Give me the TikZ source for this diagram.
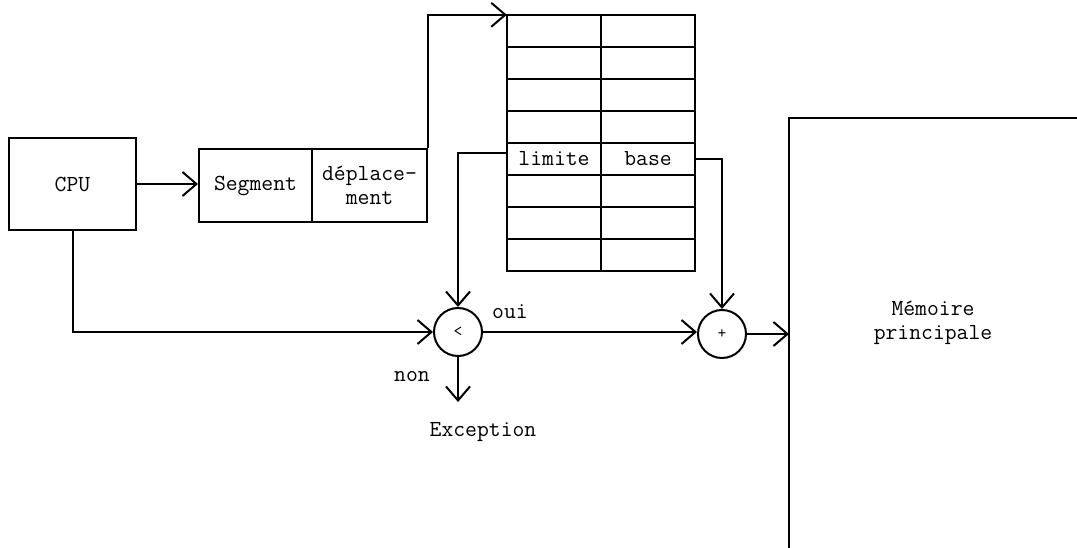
\documentclass[tikz,border=0pt]{standalone}
\usetikzlibrary{arrows.meta}
\begin{document}
\begin{tikzpicture}[x=1pt,y=-1pt,
  every node/.style={font=\ttfamily\fontsize{23}{24}\selectfont},
  box/.style={draw,line width=2pt,rectangle,inner sep=0pt},
  cell/.style={rectangle,inner sep=0pt,minimum width=94pt,minimum height=32pt},
  op/.style={draw,line width=2pt,circle,minimum size=48pt,inner sep=0pt,font=\ttfamily\fontsize{17}{18}\selectfont},
  arr/.style={line width=2pt,-{Straight Barb[length=14pt,width=24pt,line width=2pt]}},
  ln/.style={line width=2pt},
  lbl/.style={inner sep=0pt}]
\useasboundingbox (0,0) rectangle (1077,548);
% CPU
\node[box,minimum width=127pt,minimum height=92pt] (cpu) at (72.5,184) {CPU};
% segment / deplacement
\node[box,minimum width=113pt,minimum height=73pt] (seg) at (255.5,185.5) {Segment};
\node[box,minimum width=115pt,minimum height=73pt,align=center] (dep) at (369.5,185.5) {déplace-\\ment};
% table
\foreach \i in {1,2,3,4,6,7,8} {
  \node[cell] (l\i) at (554,{15+32*(\i-0.5)}) {};
  \node[cell] (r\i) at (648,{15+32*(\i-0.5)}) {};
}
\node[cell] (l5) at (554,{15+32*4.5}) {limite};
\node[cell] (r5) at (648,{15+32*4.5}) {base};
\draw[ln] (l1.north west) rectangle (r8.south east);
\draw[ln] (l1.north east) -- (l8.south east);
\foreach \i in {1,...,7} { \draw[ln] (l\i.south west) -- (r\i.south east); }
% operators
\node[op] (lt) at (458,332) {<};
\node[op] (plus) at (722,334) {+};
% memory
\draw[ln] (789,549) -- (789,118) -- (1078,118);
\coordinate (memin) at (789,334);
\node[lbl,align=center] (mem) at (933,323) {Mémoire\\principale};
% labels
\node[lbl] (oui) at (510,312) {oui};
\node[lbl] (non) at (412,377) {non};
\coordinate (excend) at (458,402);
\node[lbl] (exc) at (483,432) {Exception};
% connectors
\draw[arr] (cpu.east) -- (cpu.east -| seg.west);
\draw[arr] (dep.north east) |- (l1.north west);
\draw[arr] ([yshift=6pt]l5.west) -| (lt.north);
\draw[arr] (r5.east) -| (plus.north);
\draw[arr] (cpu.south) |- (lt.west);
\draw[arr] (lt.east) -- (lt.east -| plus.west);
\draw[arr] (plus.east) -- (memin);
\draw[arr] (lt.south) -- (excend);
\end{tikzpicture}
\end{document}
